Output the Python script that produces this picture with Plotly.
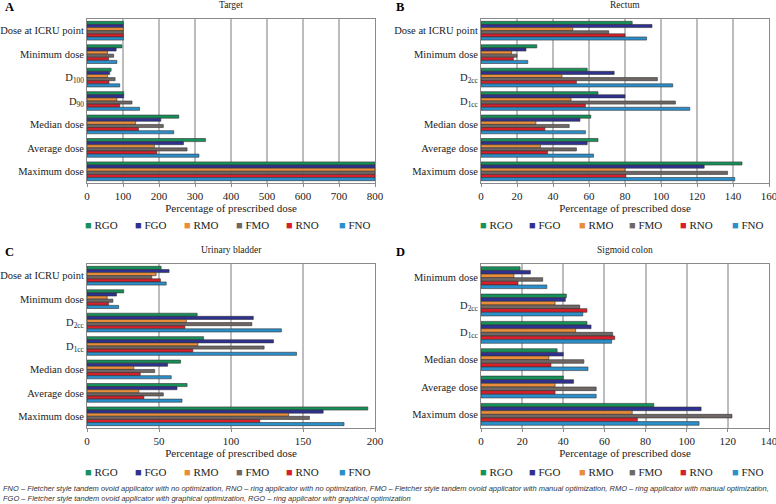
import plotly.graph_objects as go

series = ["RGO", "FGO", "RMO", "FMO", "RNO", "FNO"]
colors = ["#16915a", "#2e3192", "#e98d3a", "#6f6765", "#d7202b", "#2a8fcb"]

cat_a = ["Dose at ICRU point", "Minimum dose", "D<sub>100</sub>", "D<sub>90</sub>",
         "Median dose", "Average dose", "Maximum dose"]
target = {
    "RGO": [101, 97, 67, 102, 255, 329, 800],
    "FGO": [101, 81, 63, 102, 205, 268, 800],
    "RMO": [101, 57, 57, 83, 135, 187, 800],
    "FMO": [101, 74, 78, 125, 212, 278, 800],
    "RNO": [101, 60, 61, 91, 143, 194, 800],
    "FNO": [101, 83, 91, 146, 241, 311, 800],
}

cat_b = ["Dose at ICRU point", "Minimum dose", "D<sub>2cc</sub>", "D<sub>1cc</sub>",
         "Median dose", "Average dose", "Maximum dose"]
rectum = {
    "RGO": [84, 31, 59, 65, 61, 65, 145],
    "FGO": [95, 25, 74, 80, 55, 59, 124],
    "RMO": [51, 17, 45, 50, 30.5, 33, 80],
    "FMO": [71, 20, 98, 108, 49, 53, 137],
    "RNO": [80, 18, 53, 58, 35.5, 37, 80.5],
    "FNO": [92, 26, 106.5, 116, 58, 62.5, 141],
}

cat_c = cat_b
bladder = {
    "RGO": [51.5, 25.5, 76.5, 81, 65, 69.5, 195],
    "FGO": [57, 20.5, 115.5, 129.5, 56, 62.5, 164],
    "RMO": [48, 14, 69, 77, 32.5, 36, 140],
    "FMO": [45, 18, 114.5, 123, 47, 53, 154.5],
    "RNO": [51, 15, 68, 73.5, 37, 39.5, 120],
    "FNO": [55, 22, 135, 145.5, 58.5, 66, 178.5],
}

cat_d = ["Minimum dose", "D<sub>2cc</sub>", "D<sub>1cc</sub>",
         "Median dose", "Average dose", "Maximum dose"]
sigmoid = {
    "RGO": [19, 41.5, 51.5, 37, 40, 84],
    "FGO": [24, 41, 53.5, 40, 45, 107],
    "RMO": [16, 36, 46, 33, 36, 73.5],
    "FMO": [30, 48, 64, 50, 56, 122],
    "RNO": [18, 51.5, 65, 34, 36, 76],
    "FNO": [32, 49.5, 63.5, 52, 56, 106],
}

panels = [
    ("A", "Target", cat_a, target, [0, 800], 100),
    ("B", "Rectum", cat_b, rectum, [0, 160], 20),
    ("C", "Urinary bladder", cat_c, bladder, [0, 200], 50),
    ("D", "Sigmoid colon", cat_d, sigmoid, [0, 140], 20),
]

W, H = 776, 504
xdoms = [[87 / W, 375 / W], [481 / W, 769 / W]]
ydoms = [[1 - 183 / H, 1 - 19 / H], [1 - 428 / H, 1 - 264 / H]]
legend_sq_x = [[87, 137, 186, 238, 288, 341], [482, 531, 581, 631, 682, 734]]
legend_y = [225, 472]

SERIF = "Liberation Serif"
fig = go.Figure()
layout = dict(
    width=W, height=H,
    margin=dict(l=0, r=0, t=0, b=0, autoexpand=False),
    paper_bgcolor="white", plot_bgcolor="white",
    barmode="group", bargap=0.2, bargroupgap=0,
    font=dict(family=SERIF, size=11, color="#222"),
    showlegend=True,
)
annotations = []
leg_idx = 0

for i, (letter, title, cats, data, xr, dt) in enumerate(panels):
    col = i % 2
    row = i // 2
    n = i + 1
    xa = "x" if n == 1 else f"x{n}"
    ya = "y" if n == 1 else f"y{n}"
    for k, (s, c) in enumerate(zip(series, colors)):
        leg_idx += 1
        lg = "legend" if leg_idx == 1 else f"legend{leg_idx}"
        fig.add_trace(go.Bar(
            y=cats, x=data[s], orientation="h", name=s, showlegend=False,
            marker=dict(color=c, line=dict(color="#333333", width=0.6)),
            xaxis=xa, yaxis=ya,
        ))
        # legend entry: coloured square glyph followed by the series name
        fig.add_trace(go.Scatter(
            x=[None], y=[None], mode="markers",
            name=f"<span style='color:{c}'>■</span> {s}", showlegend=True,
            marker=dict(symbol="square", size=1, opacity=0,
                        color="rgba(0,0,0,0)", line=dict(width=0, color="rgba(0,0,0,0)")),
            xaxis=xa, yaxis=ya, legend=lg, hoverinfo="skip",
        ))
        layout[lg] = dict(
            x=(legend_sq_x[col][k] - 42) / W, xanchor="left",
            y=1 - legend_y[row] / H, yanchor="middle",
            font=dict(size=11, family=SERIF), bgcolor="rgba(0,0,0,0)",
            borderwidth=0,
        )
    layout[f"xaxis{'' if n == 1 else n}"] = dict(
        domain=xdoms[col], anchor=ya, range=xr, dtick=dt,
        showgrid=True, gridcolor="#bdbdbd", gridwidth=2,
        showline=True, linecolor="#8a8a8a", linewidth=1, mirror=True,
        ticks="outside", ticklen=3, tickcolor="#8a8a8a",
        zeroline=False, tickfont=dict(size=11), ticklabeloverflow="allow",
        title=dict(text="Percentage of prescribed dose", font=dict(size=11), standoff=2),
    )
    layout[f"yaxis{'' if n == 1 else n}"] = dict(
        domain=ydoms[row], anchor=xa, autorange="reversed",
        showline=True, linecolor="#8a8a8a", linewidth=1, mirror=True,
        ticks="", tickfont=dict(size=10.5), showgrid=False,
    )
    ytop = ydoms[row][1]
    annotations.append(dict(
        text=title, x=(xdoms[col][0] + xdoms[col][1]) / 2, y=ytop + 14 / H,
        xref="paper", yref="paper", showarrow=False, xanchor="center",
        yanchor="middle", font=dict(size=9.5, family=SERIF)))
    annotations.append(dict(
        text=f"<b>{letter}</b>", x=(3 if col == 0 else 394) / W,
        y=ytop + 12 / H, xref="paper", yref="paper", showarrow=False,
        xanchor="left", yanchor="middle", font=dict(size=12.5, family=SERIF, color="#000")))

foot1 = ("FNO – Fletcher style tandem ovoid applicator with no optimization, RNO – ring applicator with no optimization, "
         "FMO – Fletcher style tandem ovoid applicator with manual optimization, RMO – ring applicator with manual optimization,")
foot2 = ("FGO – Fletcher style tandem ovoid applicator with graphical optimization, RGO – ring applicator with graphical optimization")
for txt, yy in [(foot1, 488), (foot2, 498)]:
    annotations.append(dict(
        text=f"<i>{txt}</i>", x=1 / W, y=1 - yy / H, xref="paper", yref="paper",
        showarrow=False, xanchor="left", yanchor="middle",
        font=dict(size=7.5, family="Liberation Sans Narrow, Arial Narrow, sans-serif", color="#333")))

layout["annotations"] = annotations
fig.update_layout(**layout)
fig.write_html("out.html", config={"displayModeBar": False},
               post_script="document.body.style.margin='0';document.body.style.padding='0';")
